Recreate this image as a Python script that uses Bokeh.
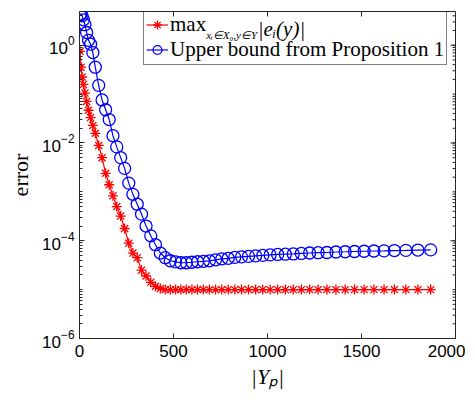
import math
from bokeh.plotting import figure
from bokeh.models import (Range1d, FixedTicker, Legend, LegendItem, Label, LogTickFormatter)
from bokeh.embed import file_html
from bokeh.resources import INLINE

# ---- data ----
yp_size = [3, 8, 14, 21, 29, 38, 48, 59, 71, 84, 102, 120, 139, 158, 178, 198, 219, 240, 262, 284,
           307, 330, 354, 379, 404, 430, 456, 483, 511, 539, 568, 598, 628, 659, 691, 724, 757, 791,
           826, 862, 899, 937, 975, 1014, 1054, 1095, 1137, 1180, 1224, 1269, 1316, 1364, 1413,
           1463, 1514, 1566, 1620, 1675, 1736, 1800, 1868]

max_error = [0.75, 0.355, 0.224, 0.158, 0.105, 0.0708, 0.0468, 0.0331, 0.0229, 0.0158,
             0.0089, 0.0050, 0.0024, 0.0014, 8.3e-4, 5.0e-4, 3.2e-4, 1.78e-4, 8.9e-5, 5.6e-5,
             4.5e-5, 2.5e-5, 1.9e-5, 1.41e-5, 1.17e-5, 1.05e-5, 1.0e-5, 1.0e-5, 1.0e-5, 1.0e-5,
             1.0e-5, 1.0e-5, 1.0e-5, 1.0e-5, 1.0e-5, 1.0e-5, 1.0e-5, 1.0e-5, 1.0e-5, 1.0e-5,
             1.0e-5, 1.0e-5, 1.0e-5, 1.0e-5, 1.0e-5, 1.0e-5, 1.0e-5, 1.0e-5, 1.0e-5, 1.0e-5,
             1.0e-5, 1.0e-5, 1.0e-5, 1.0e-5, 1.0e-5, 1.0e-5, 1.0e-5, 1.0e-5, 1.0e-5, 1.0e-5,
             1.0e-5]

upper_bound = [4.17, 4.37, 3.98, 3.31, 2.63, 1.82, 1.26, 1.05, 0.708, 0.355,
               0.151, 0.0759, 0.0479, 0.0302, 0.0141, 0.00832, 0.00501, 0.00302, 0.00151, 8.9e-4,
               5.6e-4, 3.5e-4, 2.0e-4, 1.26e-4, 8.3e-5, 5.6e-5, 4.5e-5, 3.9e-5, 3.7e-5, 3.55e-5,
               3.55e-5, 3.63e-5, 3.72e-5, 3.8e-5, 3.89e-5, 4.07e-5, 4.27e-5, 4.37e-5, 4.57e-5, 4.68e-5,
               4.79e-5, 4.9e-5, 5.01e-5, 5.13e-5, 5.25e-5, 5.3e-5, 5.37e-5, 5.5e-5, 5.62e-5, 5.7e-5,
               5.75e-5, 5.89e-5, 5.95e-5, 6.03e-5, 6.1e-5, 6.17e-5, 6.2e-5, 6.3e-5, 6.35e-5, 6.45e-5,
               6.5e-5]

x_ticks = [0, 500, 1000, 1500, 2000]
y_ticks = [1e-6, 1e-4, 1e-2, 1]
legend_labels = ["max", "Upper bound from Proposition 1"]

# ---- figure ----
AX = "#262626"
FW, FH = 376, 327
XMIN, XMAX, YMIN, YMAX = 0, 2000, 1e-6, 4.9
p = figure(frame_width=FW, frame_height=FH, y_axis_type="log",
           x_range=Range1d(XMIN, XMAX), y_range=Range1d(YMIN, YMAX),
           output_backend="svg", toolbar_location=None,
           min_border_left=79, min_border_right=10, min_border_top=11, min_border_bottom=53,
           background_fill_color="white", border_fill_color="white")
p.grid.visible = False
p.outline_line_color = AX
p.outline_line_width = 1

minor = [m * 10.0 ** e for e in range(-6, 1) for m in range(1, 10)]
yt = FixedTicker(ticks=y_ticks, minor_ticks=minor)
xt = FixedTicker(ticks=x_ticks)

p.xaxis.ticker = xt
p.yaxis.ticker = yt
p.yaxis.formatter = LogTickFormatter()

for ax in (p.xaxis[0], p.yaxis[0]):
    ax.axis_line_color = AX
    ax.major_tick_line_color = AX
    ax.minor_tick_line_color = AX
    ax.major_tick_in = 5
    ax.major_tick_out = 0
    ax.minor_tick_out = 0
    ax.major_label_text_font = "Liberation Sans"
    ax.major_label_text_font_size = "17px"
    ax.major_label_text_color = "black"
    ax.axis_label_text_font = "Liberation Serif"
    ax.axis_label_text_font_size = "22px"
    ax.axis_label_text_font_style = "normal"
    ax.axis_label_text_color = "black"
p.xaxis.minor_tick_in = 0
p.yaxis.minor_tick_in = 3
p.xaxis.major_label_standoff = 6
p.yaxis.major_label_standoff = 5
p.xaxis.axis_label = "|Yₚ|"
p.xaxis.axis_label_text_font_style = "italic"
p.xaxis.axis_label_standoff = 4
p.yaxis.axis_label = "error"
p.yaxis.axis_label_standoff = 6

# mirrored ticks on the top and right edges of the box
dx_px = (XMAX - XMIN) / FW
dec_per_px = (math.log10(YMAX) - math.log10(YMIN)) / FH
p.segment(x0=x_ticks, x1=x_ticks, y0=[YMAX] * len(x_ticks),
          y1=[YMAX / 10 ** (5 * dec_per_px)] * len(x_ticks), line_color=AX, line_width=1)
p.segment(x0=[XMAX] * len(y_ticks), x1=[XMAX - 5 * dx_px] * len(y_ticks), y0=y_ticks, y1=y_ticks,
          line_color=AX, line_width=1)
minor_in = [m for m in minor if m <= YMAX]
p.segment(x0=[XMAX] * len(minor_in), x1=[XMAX - 3 * dx_px] * len(minor_in), y0=minor_in,
          y1=minor_in, line_color=AX, line_width=1)

# ---- series ----
r_line = p.line(yp_size, max_error, line_color="#FF0000", line_width=1.2)
r_mark = p.scatter(yp_size, max_error, marker="asterisk", size=10, line_color="#FF0000",
                   line_width=1.3)
b_line = p.line(yp_size, upper_bound, line_color="#0000FF", line_width=1.2)
b_mark = p.scatter(yp_size, upper_bound, marker="circle", size=12, line_color="#0000FF",
                   fill_color=None, line_width=1.3)

# ---- legend ----
LX, PAD, GW, ST, RH = 64, 2, 22, 2, 23
LBOT = FH - 4 - (2 * PAD + 2 * RH)
FS = 21
legend = Legend(items=[LegendItem(label=legend_labels[0], renderers=[r_line, r_mark]),
                       LegendItem(label=legend_labels[1], renderers=[b_line, b_mark])],
                location=(LX, LBOT), padding=PAD, spacing=0, margin=0,
                glyph_width=GW, glyph_height=RH, label_height=RH, label_standoff=ST,
                label_text_font="Liberation Serif", label_text_font_size=f"{FS}px",
                label_text_color="black",
                border_line_color="black", border_line_width=1,
                background_fill_alpha=0)
p.add_layout(legend, "center")

row1_y = LBOT + PAD + RH + RH / 2
text_x = LX + PAD + GW + ST
max_w = 1.722 * FS
sub = Label(x=text_x + max_w + 0.5, y=row1_y - 6, x_units="screen", y_units="screen",
            text="xᵢ∈X₀,y∈Y", text_font="Liberation Serif", text_font_size="11px",
            text_font_style="italic", text_baseline="middle", text_color="black")
body = Label(x=text_x + max_w + 52, y=row1_y, x_units="screen", y_units="screen",
             text="|eᵢ(y)|", text_font="Liberation Serif", text_font_size=f"{FS}px",
             text_font_style="italic", text_baseline="middle", text_color="black")
p.add_layout(sub)
p.add_layout(body)

open("out.html", "w").write(file_html(p, INLINE))
